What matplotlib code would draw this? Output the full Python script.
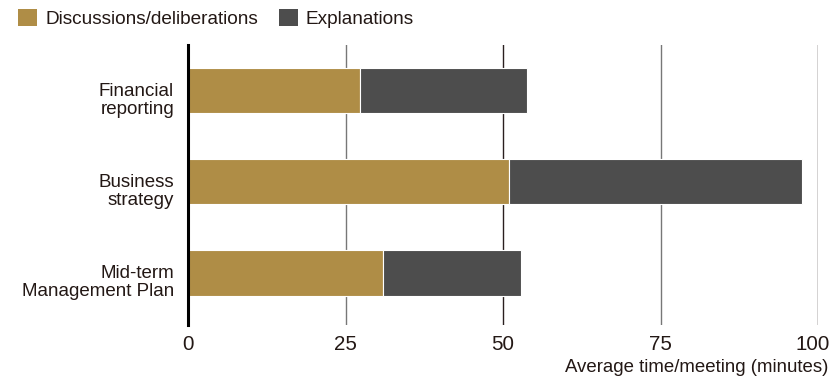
import matplotlib
matplotlib.use("Agg")
import matplotlib.pyplot as plt
import matplotlib.transforms as mtransforms
from matplotlib.patches import Patch

categories = ["Financial\nreporting", "Business\nstrategy", "Mid-term\nManagement Plan"]
discussions = [27.3, 51.0, 31.0]
explanations = [26.5, 46.5, 21.8]
series_names = ["Discussions/deliberations", "Explanations"]
xticks = [0, 25, 50, 75, 100]
xlabel = "Average time/meeting (minutes)"

gold = "#AF8D46"
dark = "#4D4D4D"
txt = "#231815"

plt.rcParams["font.family"] = ["Liberation Sans", "DejaVu Sans"]

fig = plt.figure(figsize=(8.34, 3.8), dpi=100)
ax = fig.add_axes([188/834, 1-325/380, (818-188)/834, (325-45)/380])

y = list(range(len(categories)))
ax.barh(y, discussions, height=0.5, color=gold, edgecolor="white", linewidth=0.8, zorder=3)
ax.barh(y, explanations, left=discussions, height=0.5, color=dark, edgecolor="white", linewidth=0.8, zorder=3)

ax.set_xlim(0, 100)
ax.set_ylim(2.574, -0.502)

grid_colors = ["#000000", "#777777", "#2a1f1f", "#777777", "#2a1f1f"]
for xv, c in zip(xticks[1:], grid_colors[1:]):
    ax.axvline(xv, color=c, linewidth=1.0, zorder=1)

for s in ["top", "right", "bottom"]:
    ax.spines[s].set_visible(False)
ax.spines["left"].set_linewidth(2.2)
ax.spines["left"].set_color("black")
ax.spines["left"].set_zorder(4)

ax.set_xticks(xticks)
ax.set_xticklabels([str(v) for v in xticks], fontsize=14.8, color=txt)
ax.tick_params(axis="x", length=0, pad=7)
xl = ax.get_xticklabels()
shift = mtransforms.ScaledTranslation(-5/100, 0, fig.dpi_scale_trans)
xl[-1].set_transform(xl[-1].get_transform() + shift)
ax.set_yticks(y)
ax.set_yticklabels(categories, fontsize=13.5, color=txt, linespacing=1.12)
ax.tick_params(axis="y", length=0, pad=10)
off = mtransforms.ScaledTranslation(0, -7/100, fig.dpi_scale_trans)
for lab in ax.get_yticklabels():
    lab.set_transform(lab.get_transform() + off)

fig.text(828/834, 1-368/380, xlabel, ha="right", va="center", fontsize=13.4, color=txt)

handles = [Patch(facecolor=gold, edgecolor="none"), Patch(facecolor=dark, edgecolor="none")]
fig.legend(handles, series_names, loc="center left", bbox_to_anchor=(3/834, 1-18.5/380),
           ncol=2, frameon=False, fontsize=13.7, handlelength=1.0, handleheight=1.0,
           handletextpad=0.42, columnspacing=1.1, labelcolor=txt, borderpad=0.3)

fig.savefig("out.png", dpi=100)
